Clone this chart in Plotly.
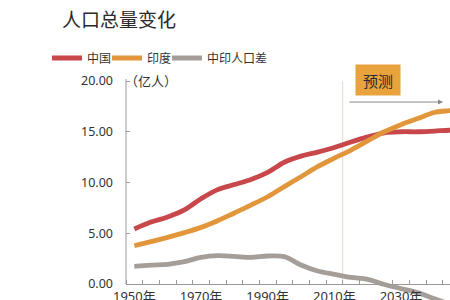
import plotly.graph_objects as go

years = [1950, 1955, 1960, 1965, 1970, 1975, 1980, 1985, 1990, 1995, 2000, 2005,
         2010, 2015, 2020, 2025, 2030, 2035, 2040, 2045, 2050]
china = [5.42, 6.1, 6.6, 7.3, 8.4, 9.3, 9.8, 10.3, 11.0, 12.0, 12.6, 13.0,
         13.45, 14.0, 14.5, 14.9, 15.0, 15.0, 15.07, 15.15, 15.1]
india = [3.77, 4.17, 4.6, 5.06, 5.58, 6.24, 7.0, 7.78, 8.6, 9.6, 10.57, 11.56,
         12.4, 13.2, 14.1, 15.0, 15.7, 16.3, 16.9, 17.1, 17.3]
diff = [1.74, 1.87, 1.94, 2.2, 2.63, 2.79, 2.72, 2.63, 2.76, 2.7, 1.87, 1.28,
        0.95, 0.65, 0.46, -0.05, -0.45, -0.85, -1.45, -2.0, -2.3]
names = ["中国", "印度", "中印人口差"]
colors = ["#C8474B", "#E2963C", "#A59D98"]
xtick_years = [1950, 1970, 1990, 2010, 2030]
xtick_text = [f"{y}年" for y in xtick_years]
ytick_vals = [0, 5, 10, 15, 20]

FONT = "Noto Sans, Noto Sans CJK SC, sans-serif"
CJK = "Noto Sans CJK SC, sans-serif"

H = 300
top = 79
left = 126
plot_w = 450 - left
ymin, ymax = -1.576, 20.2
plot_h = H - top
zero_pos = (0 - ymin) / (ymax - ymin)

legend_ids = ["legend", "legend2", "legend3"]
legend_x_px = [47, 107, 167]

fig = go.Figure()
for name, vals, col, lid in zip(names, [china, india, diff], colors, legend_ids):
    fig.add_trace(go.Scatter(x=years, y=vals, name=name, mode="lines", legend=lid,
                             line=dict(color=col, width=4.8, shape="spline", smoothing=1.0)))

legend_common = dict(orientation="h", xanchor="left", yanchor="middle",
                     y=(H - 58) / plot_h,
                     font=dict(family=CJK, size=12, color="#333333"),
                     itemwidth=30, bgcolor="rgba(0,0,0,0)")

fig.update_layout(
    template="none",
    width=450, height=300,
    margin=dict(l=left, r=0, t=top, b=0, pad=0),
    paper_bgcolor="white", plot_bgcolor="white",
    font=dict(family=FONT, color="#333333", size=12),
    title=dict(text="人口总量变化", x=62/450, xref="container", xanchor="left",
               y=1-20/300, yref="container", yanchor="middle",
               font=dict(family=CJK, size=19, color="#2a2a2a")),
    showlegend=True,
    legend=dict(x=(legend_x_px[0] - left) / plot_w, **legend_common),
    legend2=dict(x=(legend_x_px[1] - left) / plot_w, **legend_common),
    legend3=dict(x=(legend_x_px[2] - left) / plot_w, **legend_common),
    xaxis=dict(range=[1947.5, 2044.7], tickvals=xtick_years, ticktext=xtick_text,
               ticks="", showgrid=False, zeroline=False,
               showline=True, linecolor="#9a9a9a", linewidth=1,
               anchor="free", position=zero_pos, automargin=False,
               tickfont=dict(family=FONT, size=13, color="#333333"),
               minor=dict(tick0=1947.5, dtick=5, ticks="inside", ticklen=4,
                          tickcolor="#9a9a9a", showgrid=False)),
    yaxis=dict(range=[ymin, ymax], tickvals=ytick_vals, tickformat=".2f",
               ticks="inside", ticklen=4, tickcolor="#9a9a9a",
               showgrid=False, zeroline=False, showline=False, automargin=False,
               ticklabelstandoff=12,
               tickfont=dict(family=FONT, size=12.5, color="#333333")),
)

# y axis line from 0 to top
fig.add_shape(type="line", xref="paper", yref="y", x0=0, x1=0, y0=0, y1=20.2,
              line=dict(color="#9a9a9a", width=1))
# forecast divider
fig.add_shape(type="line", xref="x", yref="y", x0=2012.5, x1=2012.5, y0=0, y1=20.0,
              line=dict(color="#E8DDCB", width=1), layer="below")

fig.add_annotation(text="（亿人）", xref="paper", yref="y", x=0, y=20.1,
                   xanchor="left", yanchor="middle", xshift=-3, showarrow=False,
                   font=dict(family=CJK, size=13, color="#333333"))
fig.add_annotation(x=2042.6, y=17.93, ax=2014.1, ay=17.93, xref="x", yref="y",
                   axref="x", ayref="y", showarrow=True, arrowhead=2, arrowsize=1,
                   arrowwidth=1, arrowcolor="#888888", text="")
fig.add_annotation(text="预测", xref="x", yref="y", x=2023.1, y=20.1,
                   showarrow=False, width=42, height=28, bgcolor="#E8A33D",
                   font=dict(family=CJK, size=15, color="#2a2a2a"))

fig.write_html("out.html")
